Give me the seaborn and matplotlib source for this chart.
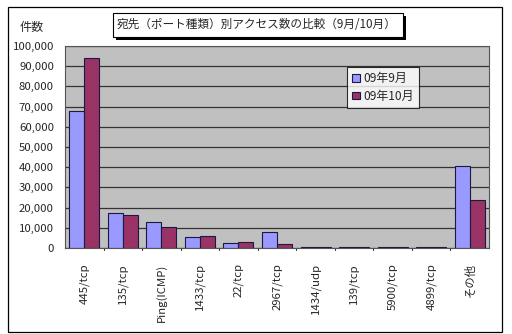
import matplotlib
matplotlib.use("Agg")
import matplotlib.pyplot as plt
from matplotlib.patches import Rectangle
from matplotlib.ticker import FuncFormatter, MultipleLocator
import seaborn as sns
import pandas as pd

ports = ["445/tcp", "135/tcp", "Ping(ICMP)", "1433/tcp", "22/tcp", "2967/tcp",
         "1434/udp", "139/tcp", "5900/tcp", "4899/tcp", "その他"]
sep_counts = [68000, 17500, 12700, 5300, 2300, 7800, 700, 600, 300, 600, 40700]
oct_counts = [94000, 16500, 10500, 5800, 2800, 1800, 600, 500, 600, 500, 23800]
series_names = ["09年9月", "09年10月"]
title = "宛先（ポート種類）別アクセス数の比較（9月/10月）"
y_label = "件数"

df = pd.DataFrame({
    "port": ports * 2,
    "count": sep_counts + oct_counts,
    "month": [series_names[0]] * len(ports) + [series_names[1]] * len(ports),
})

sns.set_theme(style="white")
plt.rcParams["font.family"] = ["Noto Sans CJK JP", "DejaVu Sans"]

W, H = 512, 334
fig = plt.figure(figsize=(W / 100, H / 100), dpi=100)
ax = fig.add_axes([65 / W, 1 - 248 / H, (489 - 65) / W, (248 - 46) / H])

sns.barplot(data=df, x="port", y="count", hue="month", order=ports,
            hue_order=series_names, palette=["#9999FF", "#993366"],
            width=0.78, gap=0, edgecolor="#1a1a40", linewidth=0.8,
            saturation=1, ax=ax, legend=True)

ax.set_facecolor("#C0C0C0")
ax.set_ylim(0, 100000)
ax.set_xlim(-0.5, len(ports) - 0.5)
ax.yaxis.set_major_locator(MultipleLocator(10000))
ax.yaxis.set_major_formatter(FuncFormatter(lambda v, p: f"{int(v):,}"))
ax.grid(axis="y", color="#333333", linewidth=0.9)
ax.set_axisbelow(True)
for s in ax.spines.values():
    s.set_color("#555555")
    s.set_linewidth(0.8)
ax.set_xlabel("")
ax.set_ylabel("")
ax.tick_params(axis="y", labelsize=8.2, length=3, color="#333333", pad=5)
ax.tick_params(axis="x", labelsize=8.2, length=0, pad=11)
for lbl in ax.get_xticklabels():
    lbl.set_rotation(90)
    lbl.set_va("top")
    lbl.set_ha("center")
# small marks at category boundaries
for b in range(1, len(ports)):
    ax.plot([b - 0.5, b - 0.5], [0, -800], color="#333333", lw=0.8,
            clip_on=False)

leg = ax.legend(loc="upper left", bbox_to_anchor=((347 - 65) / 424, (248 - 67) / 202),
                frameon=True, fancybox=False, fontsize=8.6, handlelength=0.6,
                handleheight=0.6, handletextpad=0.3, borderpad=0.45,
                labelspacing=0.35, borderaxespad=0)
leg.get_frame().set_edgecolor("black")
leg.get_frame().set_linewidth(0.8)
leg.get_frame().set_facecolor("white")

# outer chart border
fig.patches.append(Rectangle((8 / W, 1 - 332 / H), (502 - 8) / W, (332 - 7) / H,
                             transform=fig.transFigure, fill=False,
                             edgecolor="black", linewidth=0.9))
# title box with drop shadow
fig.patches.append(Rectangle((116 / W, 1 - 40 / H), (406 - 116) / W, (40 - 16) / H,
                             transform=fig.transFigure, facecolor="black",
                             edgecolor="none"))
fig.patches.append(Rectangle((113 / W, 1 - 37 / H), (403 - 113) / W, (37 - 13) / H,
                             transform=fig.transFigure, facecolor="white",
                             edgecolor="black", linewidth=0.8))
fig.text(257 / W, 1 - 25 / H, title, ha="center", va="center", fontsize=8.4)
fig.text(32 / W, 1 - 28 / H, y_label, ha="center", va="center", fontsize=8.7)

fig.savefig("out.png", dpi=100)
